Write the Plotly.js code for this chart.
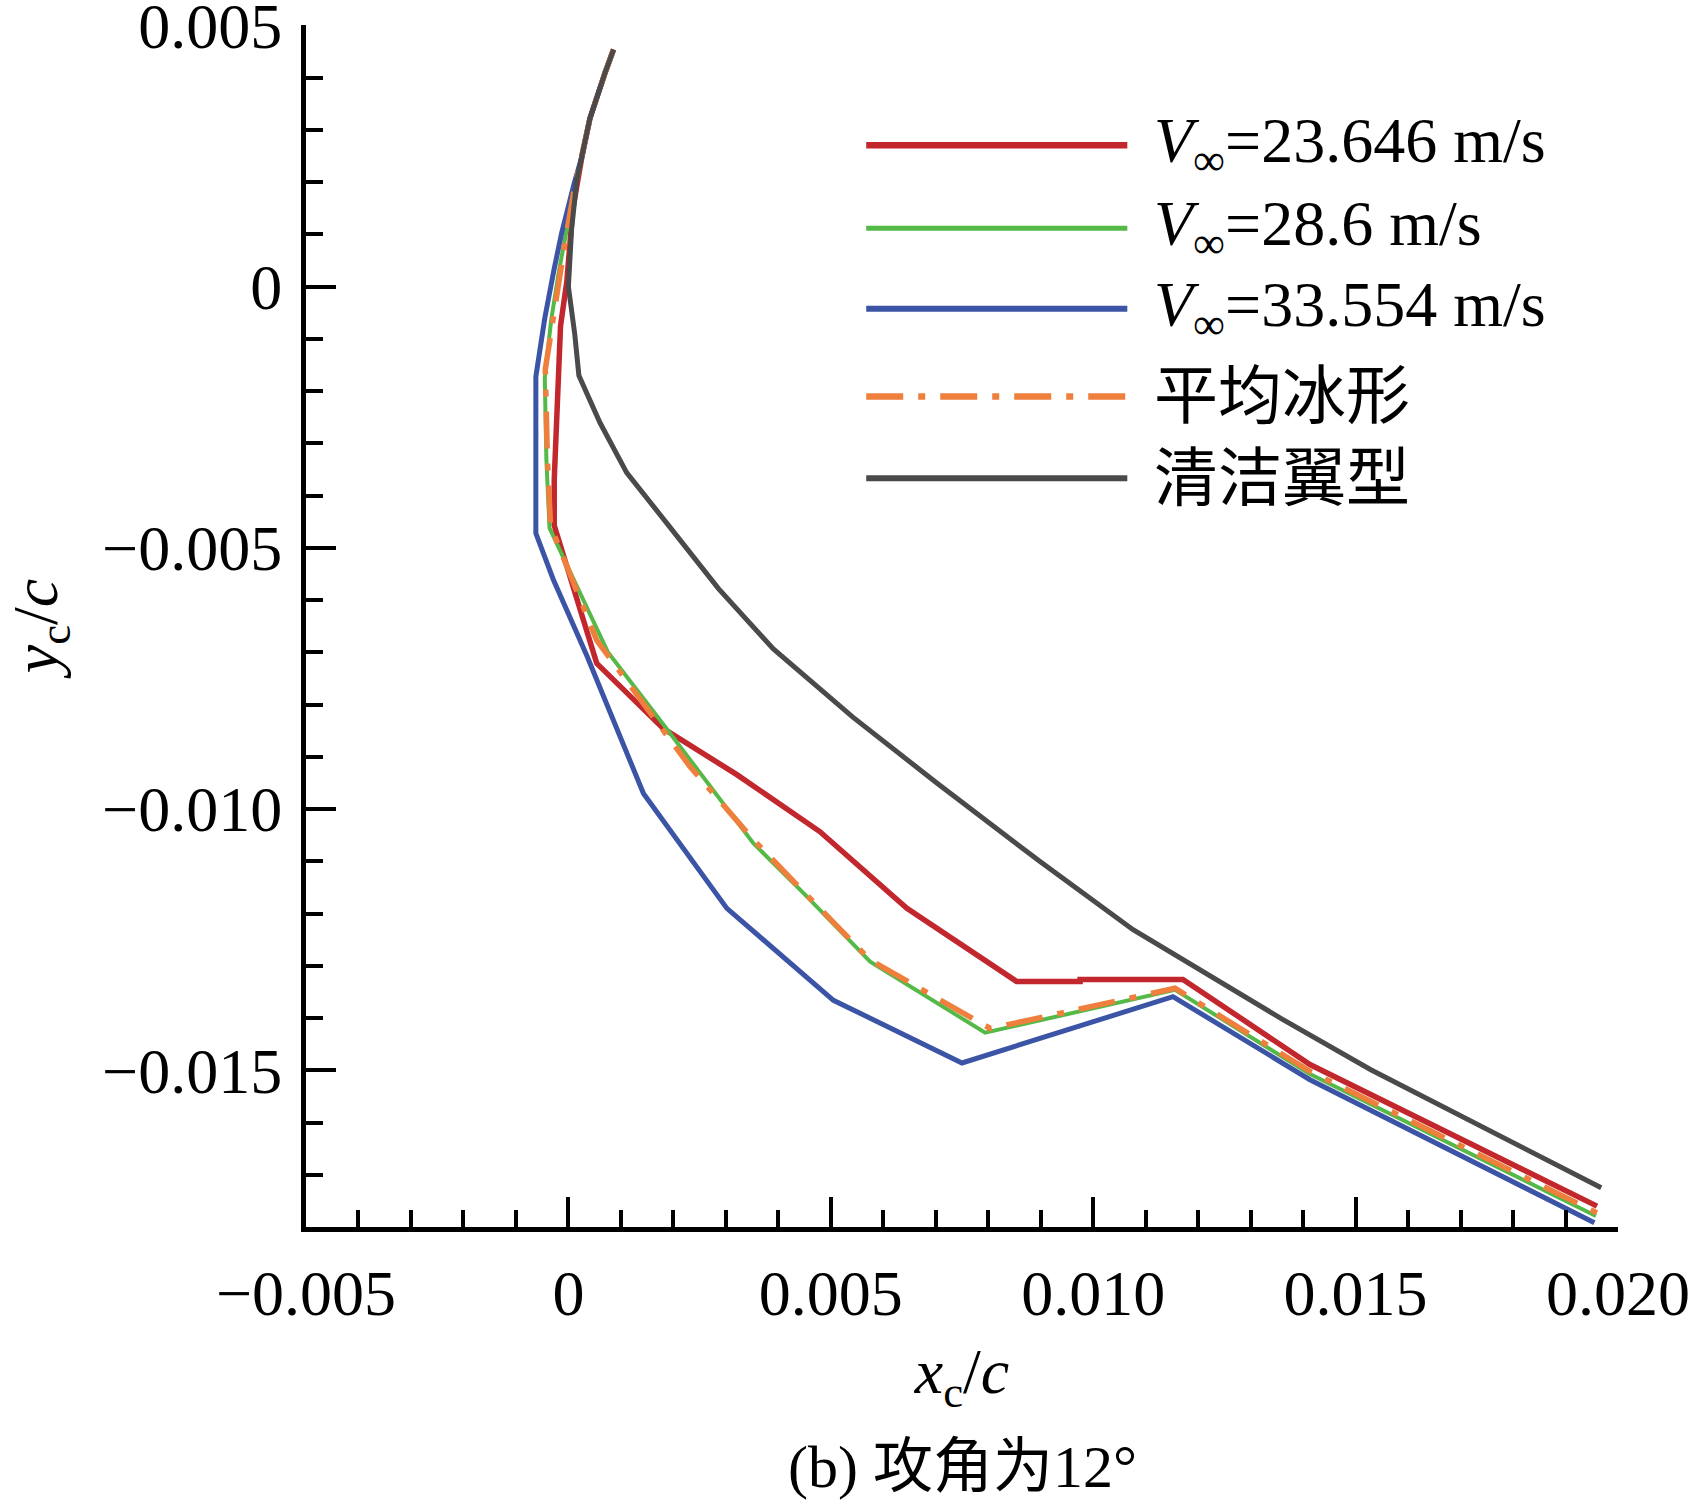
<!DOCTYPE html>
<html>
<head>
<meta charset="utf-8">
<script src="https://cdn.plot.ly/plotly-3.0.1.min.js"></script>
<style>html,body{margin:0;padding:0;background:#fff;}#chart{width:1692px;height:1505px;}</style>
</head>
<body>
<div id="chart"></div>
<script>
// ---- data (x_c/c, y_c/c) ----
const seriesNames = ["V∞=23.646 m/s", "V∞=28.6 m/s", "V∞=33.554 m/s", "平均冰形", "清洁翼型"];

const xRed = [0.00086, 0.00070, 0.00041, 0.00026, 0.00008, 0.00000, -0.00003, -0.00015, -0.00019, -0.00022, -0.00027, -0.00027, 0.00054, 0.00181, 0.00321, 0.00479, 0.00645, 0.00854, 0.00975, 0.00975, 0.01171, 0.01413, 0.01960];
const yRed = [0.00454, 0.00410, 0.00322, 0.00250, 0.00146, 0.00052, 0.00010, -0.00075, -0.00165, -0.00260, -0.00370, -0.00457, -0.00721, -0.00846, -0.00934, -0.01043, -0.01190, -0.01330, -0.01330, -0.01326, -0.01326, -0.01489, -0.01760];

const xGreen = [0.00086, 0.00070, 0.00041, 0.00026, 0.00010, -0.00005, -0.00018, -0.00033, -0.00045, -0.00042, -0.00036, 0.00075, 0.00181, 0.00352, 0.00448, 0.00575, 0.00794, 0.01156, 0.01413, 0.01958];
const yGreen = [0.00454, 0.00410, 0.00322, 0.00250, 0.00175, 0.00100, 0.00030, -0.00065, -0.00175, -0.00330, -0.00462, -0.00699, -0.00838, -0.01065, -0.01161, -0.01292, -0.01428, -0.01346, -0.01507, -0.01779];

const xBlue = [0.00086, 0.00070, 0.00041, 0.00026, 0.00011, -0.00013, -0.00027, -0.00045, -0.00062, -0.00062, -0.00029, 0.00035, 0.00143, 0.00302, 0.00505, 0.00750, 0.01152, 0.01413, 0.01955];
const yBlue = [0.00454, 0.00410, 0.00322, 0.00250, 0.00198, 0.00102, 0.00035, -0.00060, -0.00172, -0.00472, -0.00560, -0.00706, -0.00970, -0.01190, -0.01366, -0.01486, -0.01359, -0.01518, -0.01792];

const xMean = [0.00086, 0.00070, 0.00041, 0.00026, 0.00010, -0.00004, -0.00016, -0.00032, -0.00044, -0.00040, -0.00034, 0.00054, 0.00162, 0.00206, 0.00232, 0.00314, 0.00352, 0.00448, 0.00575, 0.00804, 0.01156, 0.01413, 0.01960];
const yMean = [0.00454, 0.00410, 0.00322, 0.00250, 0.00180, 0.00100, 0.00027, -0.00069, -0.00158, -0.00330, -0.00458, -0.00677, -0.00824, -0.00882, -0.00919, -0.01014, -0.01058, -0.01158, -0.01289, -0.01420, -0.01343, -0.01502, -0.01773];

const xClean = [0.00086, 0.00070, 0.00041, 0.00016, 0.00006, 0.00000, 0.00012, 0.00020, 0.00060, 0.00111, 0.00187, 0.00286, 0.00390, 0.00542, 0.00702, 0.00898, 0.01076, 0.01203, 0.01360, 0.01529, 0.01750, 0.01968];
const yClean = [0.00454, 0.00410, 0.00322, 0.00205, 0.00109, 0.00000, -0.00090, -0.00170, -0.00260, -0.00356, -0.00452, -0.00578, -0.00693, -0.00824, -0.00950, -0.01100, -0.01231, -0.01308, -0.01402, -0.01499, -0.01612, -0.01725];

const xTickVals = [-0.005, 0, 0.005, 0.010, 0.015, 0.020];
const xTickText = ["\u22120.005", "0", "0.005", "0.010", "0.015", "0.020"];
const yTickVals = [0.005, 0, -0.005, -0.010, -0.015];
const yTickText = ["0.005", "0", "\u22120.005", "\u22120.010", "\u22120.015"];

const legendLabels = [
  "<i>V</i><sub>∞</sub>=23.646 m/s",
  "<i>V</i><sub>∞</sub>=28.6 m/s",
  "<i>V</i><sub>∞</sub>=33.554 m/s",
  "平均冰形",
  "清洁翼型"
];
const captionText = "(b) 攻角为12°";

// ---- styles ----
const colors = ["#c1272d", "#55b948", "#3b54a5", "#ef7f3c", "#4a4a4a"];
const widths = [5.5, 4, 5, 5.5, 5];
const dashes = ["solid", "solid", "solid", "37px,15px,7px,15px", "solid"];
const serif = "'Liberation Serif', 'Times New Roman', serif";
const cjk = "'Liberation Serif', 'Noto Sans CJK SC', serif";

const xs = [xRed, xGreen, xBlue, xMean, xClean];
const ys = [yRed, yGreen, yBlue, yMean, yClean];

const traces = xs.map((x, i) => ({
  type: "scatter", mode: "lines", name: seriesNames[i],
  x: x, y: ys[i],
  line: {color: colors[i], width: widths[i], dash: dashes[i]},
  hoverinfo: "skip"
}));

// custom legend (long line samples, as in the reference)
const legendY = [0.900, 0.831, 0.764, 0.691, 0.623];
const shapes = legendY.map((yy, i) => ({
  type: "line", xref: "paper", yref: "paper",
  x0: 0.427, x1: 0.626, y0: yy, y1: yy,
  line: {color: colors[i], width: widths[i] + 1, dash: dashes[i]}
}));
const annotations = legendY.map((yy, i) => ({
  xref: "paper", yref: "paper", x: 0.645, y: yy,
  xanchor: "left", yanchor: "middle", showarrow: false,
  text: legendLabels[i],
  font: {family: i < 3 ? serif : cjk, size: 64, color: "#000"}
}));
annotations.push({
  xref: "paper", yref: "paper", x: 0.5, y: -0.200,
  xanchor: "center", yanchor: "middle", showarrow: false,
  text: captionText,
  font: {family: cjk, size: 60, color: "#000"}
});

const axisCommon = {
  showgrid: false, zeroline: false, showline: true,
  linecolor: "#000", linewidth: 5,
  ticks: "inside", ticklen: 30, tickwidth: 4, tickcolor: "#000",
  tickmode: "array",
  ticklabeloverflow: "allow",
  tickfont: {family: serif, size: 64, color: "#000"},
  minor: {dtick: 0.001, tick0: 0, ticks: "inside", ticklen: 17, tickwidth: 4, tickcolor: "#000", showgrid: false}
};

const layout = {
  width: 1692, height: 1505,
  margin: {l: 306, r: 74, t: 25, b: 278},
  paper_bgcolor: "#fff", plot_bgcolor: "#fff",
  showlegend: false,
  xaxis: Object.assign({}, axisCommon, {
    range: [-0.005, 0.020],
    tickvals: xTickVals, ticktext: xTickText,
    ticklabelstandoff: 6,
    automargin: "bottom",
    title: {text: "<i>x</i><sub>c</sub>/<i>c</i>", font: {family: serif, size: 64, color: "#000"}, standoff: 22}
  }),
  yaxis: Object.assign({}, axisCommon, {
    range: [-0.018, 0.00501],
    tickvals: yTickVals, ticktext: yTickText,
    ticklabelstandoff: 6,
    automargin: "left",
    title: {text: "<i>y</i><sub>c</sub>/<i>c</i>", font: {family: serif, size: 64, color: "#000"}, standoff: 42}
  }),
  shapes: shapes,
  annotations: annotations
};

Plotly.newPlot("chart", traces, layout, {staticPlot: true, displayModeBar: false});
</script>
</body>
</html>
